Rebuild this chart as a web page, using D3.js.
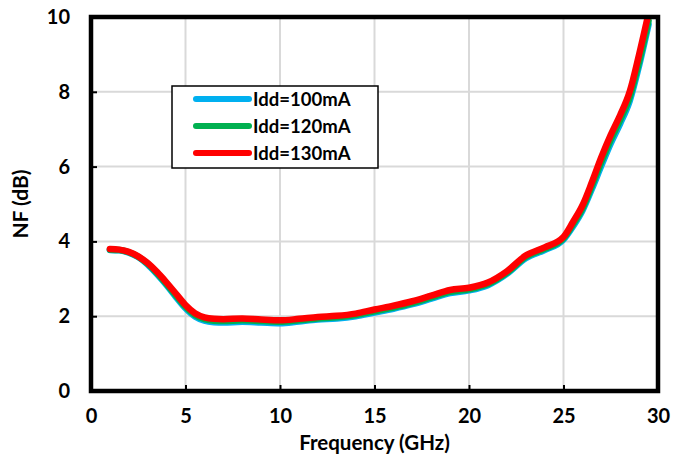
<html>
<head>
<meta charset="UTF-8">
<script src="https://cdn.jsdelivr.net/npm/d3@7"></script>
<style>
  body { margin: 0; background: #fff; }
  text { font-family: Lato, "Open Sans", sans-serif; font-weight: bold; fill: #000; }
</style>
</head>
<body>
<svg id="chart" width="689" height="455"></svg>
<script>
// frequency (GHz)
const freq = [1, 1.5, 2, 2.5, 3, 3.5, 4, 4.5, 5, 5.5, 6, 6.5, 7, 8, 9, 10, 11, 12, 13, 14, 15, 16, 17, 18, 19, 20, 21, 22, 23, 24, 25, 25.5, 26, 26.5, 27, 27.5, 28, 28.5, 29, 29.5];
// NF (dB) for each bias current
const nf100 = [3.77, 3.76, 3.70, 3.58, 3.38, 3.12, 2.83, 2.51, 2.21, 1.99, 1.88, 1.84, 1.83, 1.85, 1.83, 1.81, 1.86, 1.91, 1.94, 2.00, 2.10, 2.20, 2.32, 2.47, 2.62, 2.69, 2.83, 3.13, 3.55, 3.77, 4.05, 4.40, 4.82, 5.40, 6.02, 6.62, 7.15, 7.75, 8.70, 9.80];
const nf120 = [3.78, 3.77, 3.71, 3.59, 3.40, 3.15, 2.86, 2.55, 2.25, 2.03, 1.92, 1.88, 1.87, 1.89, 1.87, 1.85, 1.89, 1.94, 1.97, 2.03, 2.13, 2.23, 2.35, 2.50, 2.65, 2.72, 2.86, 3.16, 3.58, 3.80, 4.08, 4.45, 4.88, 5.48, 6.12, 6.72, 7.25, 7.85, 8.80, 9.90];
const nf130 = [3.80, 3.78, 3.72, 3.60, 3.42, 3.18, 2.90, 2.60, 2.30, 2.08, 1.97, 1.93, 1.92, 1.94, 1.91, 1.89, 1.93, 1.98, 2.01, 2.07, 2.18, 2.28, 2.40, 2.55, 2.70, 2.76, 2.90, 3.20, 3.62, 3.84, 4.12, 4.52, 4.96, 5.58, 6.25, 6.85, 7.38, 8.00, 9.00, 10.10];

const seriesNames = ["Idd=100mA", "Idd=120mA", "Idd=130mA"];
const seriesColors = ["#00b0f0", "#00b050", "#ff0000"];
const seriesValues = [nf100, nf120, nf130];

const xTicks = [0, 5, 10, 15, 20, 25, 30];
const yTicks = [0, 2, 4, 6, 8, 10];

const svg = d3.select("#chart");
const pL = 91, pR = 658, pT = 17, pB = 391;

const x = d3.scaleLinear().domain([0, 30]).range([pL, pR]);
const y = d3.scaleLinear().domain([0, 10]).range([pB, pT]);

// grid
svg.append("g").selectAll("line").data(xTicks.slice(1, -1)).enter().append("line")
  .attr("x1", d => x(d)).attr("x2", d => x(d))
  .attr("y1", pT).attr("y2", pB)
  .attr("stroke", "#d9d9d9").attr("stroke-width", 2);
svg.append("g").selectAll("line").data(yTicks.slice(1, -1)).enter().append("line")
  .attr("x1", pL).attr("x2", pR)
  .attr("y1", d => y(d)).attr("y2", d => y(d))
  .attr("stroke", "#d9d9d9").attr("stroke-width", 2);

// axes (tick labels only, ticks drawn inward)
const xAxis = svg.append("g").attr("transform", `translate(0,${pB})`)
  .call(d3.axisBottom(x).tickValues(xTicks).tickSize(-6).tickPadding(18));
const yAxis = svg.append("g").attr("transform", `translate(${pL},0)`)
  .call(d3.axisLeft(y).tickValues(yTicks).tickSize(-6).tickPadding(21));
[xAxis, yAxis].forEach(a => {
  a.select(".domain").remove();
  a.selectAll(".tick line").attr("stroke", "#000").attr("stroke-width", 2);
  a.selectAll("text").style("font-size", "20px").style("font-family", "Lato, sans-serif").style("font-weight", "bold");
});

// clip
svg.append("clipPath").attr("id", "clip").append("rect")
  .attr("x", pL).attr("y", pT).attr("width", pR - pL).attr("height", pB - pT);

const line = d3.line().curve(d3.curveMonotoneX)
  .x((d, i) => x(freq[i])).y(d => y(d));

svg.append("g").attr("clip-path", "url(#clip)").selectAll("path")
  .data(seriesValues).enter().append("path")
  .attr("d", d => line(d))
  .attr("fill", "none")
  .attr("stroke", (d, i) => seriesColors[i])
  .attr("stroke-width", 6.5)
  .attr("stroke-linecap", "round")
  .attr("stroke-linejoin", "round");

// frame
svg.append("rect").attr("x", pL).attr("y", pT)
  .attr("width", pR - pL).attr("height", pB - pT)
  .attr("fill", "none").attr("stroke", "#000").attr("stroke-width", 4.5);

// axis titles
svg.append("text").attr("x", (pL + pR) / 2).attr("y", 450)
  .attr("text-anchor", "middle").style("font-size", "20.5px").text("Frequency (GHz)");
svg.append("text").attr("transform", `translate(28,${(pT + pB) / 2}) rotate(-90)`)
  .attr("text-anchor", "middle").style("font-size", "21px").text("NF (dB)");

// legend
const lg = svg.append("g");
lg.append("rect").attr("x", 172).attr("y", 86).attr("width", 206).attr("height", 82)
  .attr("fill", "#fff").attr("stroke", "#000").attr("stroke-width", 1.5);
seriesNames.forEach((name, i) => {
  const ly = 99 + i * 27;
  lg.append("line").attr("x1", 196).attr("x2", 249).attr("y1", ly).attr("y2", ly)
    .attr("stroke", seriesColors[i]).attr("stroke-width", 6).attr("stroke-linecap", "round");
  lg.append("text").attr("x", 253).attr("y", ly).attr("dy", "0.36em")
    .style("font-size", "18.5px").text(name);
});
</script>
</body>
</html>
